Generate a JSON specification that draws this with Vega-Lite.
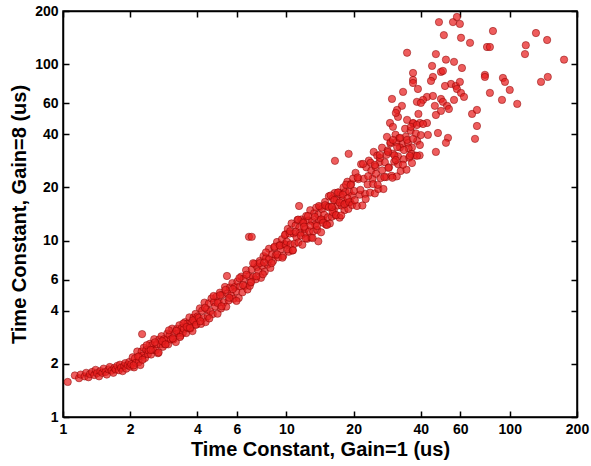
{
  "$schema": "https://vega.github.io/schema/vega-lite/v6.json",
  "width": 514,
  "height": 406,
  "autosize": {"type": "none"},
  "padding": {"left": 63, "top": 11, "right": 14, "bottom": 49},
  "background": "white",
  "config": {
    "view": {"stroke": "#000", "strokeWidth": 1.5},
    "axis": {
      "domainColor": "#000", "domainWidth": 1.5,
      "tickColor": "#000", "tickWidth": 1.5, "tickSize": -6,
      "grid": false,
      "labelFont": "Liberation Sans", "labelFontWeight": "bold", "labelFontSize": 14, "labelColor": "#000",
      "titleFont": "Liberation Sans", "titleFontWeight": "bold", "titleFontSize": 20, "titleColor": "#000"
    }
  },
  "datasets": {
    "pts": [
      {"t1":1.05,"t8":1.58},{"t1":1.13,"t8":1.72},{"t1":1.18,"t8":1.66},{"t1":1.2,"t8":1.74},{"t1":1.25,"t8":1.7},{"t1":1.27,"t8":1.78},{"t1":1.3,"t8":1.68},{"t1":1.32,"t8":1.75},{"t1":1.35,"t8":1.8},{"t1":1.38,"t8":1.73},{"t1":1.4,"t8":1.85},{"t1":1.42,"t8":1.77},{"t1":1.45,"t8":1.7},{"t1":1.47,"t8":1.82},{"t1":1.5,"t8":1.78},{"t1":1.52,"t8":1.88},{"t1":1.55,"t8":1.8},{"t1":1.57,"t8":1.74},{"t1":1.6,"t8":1.86},{"t1":1.62,"t8":1.92},{"t1":1.65,"t8":1.83},{"t1":1.68,"t8":1.78},{"t1":1.7,"t8":1.9},{"t1":1.72,"t8":1.86},{"t1":1.75,"t8":1.95},{"t1":1.78,"t8":1.84},{"t1":1.8,"t8":1.98},{"t1":1.82,"t8":1.9},{"t1":1.85,"t8":1.82},{"t1":1.88,"t8":1.95},{"t1":1.9,"t8":2.02},{"t1":1.92,"t8":1.88},{"t1":1.95,"t8":1.97},{"t1":1.98,"t8":2.05},{"t1":2.0,"t8":1.93},
      {"t1":2.02,"t8":1.99},{"t1":2.05,"t8":2.18},{"t1":2.08,"t8":1.91},{"t1":2.1,"t8":2.15},{"t1":2.12,"t8":2.03},{"t1":2.15,"t8":2.35},{"t1":2.18,"t8":2.04},{"t1":2.2,"t8":2.21},{"t1":2.22,"t8":1.97},{"t1":2.25,"t8":2.35},{"t1":2.28,"t8":2.23},{"t1":2.3,"t8":2.47},{"t1":2.33,"t8":2.16},{"t1":2.36,"t8":2.4},{"t1":2.4,"t8":2.27},{"t1":2.42,"t8":2.38},{"t1":2.45,"t8":2.6},{"t1":2.48,"t8":2.26},{"t1":2.5,"t8":2.55},{"t1":2.53,"t8":2.4},{"t1":2.56,"t8":2.76},{"t1":2.6,"t8":2.39},{"t1":2.63,"t8":2.59},{"t1":2.66,"t8":2.3},{"t1":2.7,"t8":2.75},{"t1":2.73,"t8":2.58},{"t1":2.76,"t8":2.87},{"t1":2.8,"t8":2.5},{"t1":2.83,"t8":2.76},{"t1":2.86,"t8":2.59},{"t1":2.9,"t8":2.73},{"t1":2.93,"t8":2.97},{"t1":2.96,"t8":2.58},{"t1":3.0,"t8":2.91},{"t1":3.04,"t8":2.75},{"t1":3.08,"t8":3.17},{"t1":3.12,"t8":2.75},{"t1":3.16,"t8":2.98},{"t1":3.2,"t8":2.66},{"t1":3.24,"t8":3.16},{"t1":3.28,"t8":2.98},{"t1":3.32,"t8":3.31},{"t1":3.36,"t8":2.89},{"t1":3.4,"t8":3.19},{"t1":3.44,"t8":3.0},{"t1":3.48,"t8":3.16},{"t1":3.52,"t8":3.45},{"t1":3.56,"t8":2.99},{"t1":3.6,"t8":3.38},{"t1":3.64,"t8":3.18},{"t1":3.68,"t8":3.67},{"t1":3.72,"t8":3.17},{"t1":3.76,"t8":3.44},{"t1":3.8,"t8":3.07},{"t1":3.84,"t8":3.65},{"t1":3.88,"t8":3.45},{"t1":3.92,"t8":3.84},{"t1":3.96,"t8":3.35},{"t1":4.0,"t8":3.71},{"t1":2.26,"t8":2.95},
      {"t1":2.07,"t8":1.96},{"t1":2.17,"t8":2.2},{"t1":2.27,"t8":2.11},{"t1":2.37,"t8":2.55},{"t1":2.47,"t8":2.4},{"t1":2.58,"t8":2.65},{"t1":2.68,"t8":2.32},{"t1":2.78,"t8":2.69},{"t1":2.88,"t8":2.58},{"t1":2.98,"t8":3.1},{"t1":3.1,"t8":2.79},{"t1":3.22,"t8":3.08},{"t1":3.34,"t8":2.84},{"t1":3.46,"t8":3.39},{"t1":3.58,"t8":3.24},{"t1":3.7,"t8":3.2},{"t1":3.82,"t8":3.53},{"t1":3.94,"t8":3.33},
      {"t1":4.05,"t8":3.65},{"t1":4.1,"t8":4.13},{"t1":4.15,"t8":3.37},{"t1":4.2,"t8":4.01},{"t1":4.25,"t8":3.64},{"t1":4.3,"t8":4.45},{"t1":4.35,"t8":3.45},{"t1":4.4,"t8":4.08},{"t1":4.45,"t8":3.72},{"t1":4.5,"t8":4.41},{"t1":4.56,"t8":3.98},{"t1":4.62,"t8":4.7},{"t1":4.68,"t8":3.83},{"t1":4.74,"t8":4.48},{"t1":4.8,"t8":4.23},{"t1":4.86,"t8":4.81},{"t1":4.92,"t8":3.85},{"t1":4.98,"t8":4.48},{"t1":5.04,"t8":5.07},{"t1":5.1,"t8":4.12},{"t1":5.17,"t8":4.92},{"t1":5.24,"t8":4.46},{"t1":5.31,"t8":5.46},{"t1":5.38,"t8":4.22},{"t1":5.45,"t8":5.01},{"t1":5.52,"t8":4.58},{"t1":5.59,"t8":5.42},{"t1":5.66,"t8":4.88},{"t1":5.73,"t8":5.74},{"t1":5.8,"t8":4.68},{"t1":5.88,"t8":5.46},{"t1":5.96,"t8":5.16},{"t1":6.04,"t8":5.87},{"t1":6.12,"t8":4.72},{"t1":6.2,"t8":5.5},{"t1":6.28,"t8":6.25},{"t1":6.36,"t8":5.09},{"t1":6.44,"t8":6.08},{"t1":6.52,"t8":5.53},{"t1":6.6,"t8":6.79},{"t1":6.7,"t8":5.28},{"t1":6.8,"t8":6.28},{"t1":6.9,"t8":5.77},{"t1":7.0,"t8":6.87},{"t1":7.1,"t8":6.22},{"t1":7.2,"t8":7.37},{"t1":7.3,"t8":6.03},{"t1":7.4,"t8":7.08},{"t1":7.5,"t8":6.71},{"t1":7.6,"t8":7.66},{"t1":7.7,"t8":6.15},{"t1":7.8,"t8":7.18},{"t1":7.9,"t8":8.16},{"t1":8.0,"t8":6.66},{"t1":8.12,"t8":7.99},{"t1":8.24,"t8":7.3},{"t1":8.36,"t8":8.99},{"t1":8.48,"t8":7.0},{"t1":8.6,"t8":8.34},{"t1":8.72,"t8":7.66},{"t1":8.84,"t8":9.13},{"t1":8.96,"t8":8.27},{"t1":9.08,"t8":9.81},{"t1":9.2,"t8":8.03},{"t1":9.32,"t8":9.41},{"t1":9.44,"t8":8.93},{"t1":9.56,"t8":10.18},{"t1":9.68,"t8":8.18},{"t1":9.8,"t8":9.55},{"t1":9.92,"t8":10.86},{"t1":6.8,"t8":10.5},{"t1":7.0,"t8":10.5},{"t1":5.42,"t8":6.3},
      {"t1":4.12,"t8":3.49},{"t1":4.32,"t8":4.16},{"t1":4.52,"t8":3.62},{"t1":4.72,"t8":4.85},{"t1":4.92,"t8":4.43},{"t1":5.13,"t8":4.24},{"t1":5.34,"t8":5.25},{"t1":5.55,"t8":4.74},{"t1":5.76,"t8":5.31},{"t1":5.98,"t8":4.55},{"t1":6.16,"t8":6.12},{"t1":6.4,"t8":5.59},{"t1":6.63,"t8":6.4},{"t1":6.86,"t8":5.54},{"t1":7.1,"t8":7.44},{"t1":7.35,"t8":6.28},{"t1":7.6,"t8":7.45},{"t1":7.85,"t8":6.44},{"t1":8.1,"t8":8.57},{"t1":8.35,"t8":7.81},{"t1":8.6,"t8":7.45},{"t1":8.85,"t8":9.23},{"t1":9.1,"t8":8.34},{"t1":9.35,"t8":9.36},{"t1":9.6,"t8":8.0},{"t1":9.85,"t8":10.75},{"t1":5.05,"t8":4.9},{"t1":6.95,"t8":5.81},{"t1":7.95,"t8":7.5},{"t1":9.95,"t8":9.46},
      {"t1":10.05,"t8":9.85},{"t1":10.15,"t8":11.64},{"t1":10.25,"t8":8.64},{"t1":10.35,"t8":10.95},{"t1":10.45,"t8":9.52},{"t1":10.55,"t8":12.51},{"t1":10.66,"t8":8.78},{"t1":10.77,"t8":10.97},{"t1":10.88,"t8":9.59},{"t1":10.99,"t8":12.17},{"t1":11.1,"t8":10.44},{"t1":11.21,"t8":13.08},{"t1":11.32,"t8":9.76},{"t1":11.43,"t8":11.87},{"t1":11.55,"t8":11.09},{"t1":11.67,"t8":13.16},{"t1":11.79,"t8":9.47},{"t1":11.91,"t8":12.84},{"t1":12.03,"t8":10.97},{"t1":12.15,"t8":11.66},{"t1":12.27,"t8":13.78},{"t1":12.4,"t8":10.23},{"t1":12.53,"t8":12.99},{"t1":12.66,"t8":11.3},{"t1":12.79,"t8":14.86},{"t1":12.92,"t8":10.42},{"t1":13.05,"t8":12.9},{"t1":13.18,"t8":11.27},{"t1":13.32,"t8":14.3},{"t1":13.46,"t8":12.28},{"t1":13.6,"t8":15.37},{"t1":13.74,"t8":11.49},{"t1":13.88,"t8":13.98},{"t1":14.02,"t8":13.05},{"t1":14.16,"t8":15.47},{"t1":14.3,"t8":11.14},{"t1":14.45,"t8":15.1},{"t1":14.6,"t8":13.04},{"t1":14.75,"t8":14.01},{"t1":14.9,"t8":16.56},{"t1":15.05,"t8":12.3},{"t1":15.2,"t8":15.6},{"t1":15.35,"t8":13.56},{"t1":15.5,"t8":17.82},{"t1":15.66,"t8":12.5},{"t1":15.82,"t8":15.63},{"t1":15.98,"t8":13.66},{"t1":16.14,"t8":17.33},{"t1":16.3,"t8":14.87},{"t1":16.46,"t8":18.61},{"t1":16.63,"t8":13.9},{"t1":16.8,"t8":16.92},{"t1":16.97,"t8":15.8},{"t1":17.14,"t8":18.72},{"t1":17.31,"t8":13.48},{"t1":17.48,"t8":18.27},{"t1":17.66,"t8":15.77},{"t1":17.84,"t8":16.95},{"t1":18.02,"t8":20.03},{"t1":18.2,"t8":14.87},{"t1":18.38,"t8":18.86},{"t1":18.56,"t8":16.4},{"t1":18.75,"t8":21.55},{"t1":18.94,"t8":15.11},{"t1":19.13,"t8":18.9},{"t1":19.32,"t8":16.52},{"t1":19.51,"t8":20.94},{"t1":19.7,"t8":17.97},{"t1":19.9,"t8":22.49},{"t1":11.4,"t8":15.7},{"t1":13.9,"t8":9.9},{"t1":16.5,"t8":28.3},{"t1":19.0,"t8":31.0},
      {"t1":10.1,"t8":8.92},{"t1":10.4,"t8":11.3},{"t1":10.7,"t8":8.82},{"t1":11.0,"t8":11.2},{"t1":11.3,"t8":13.15},{"t1":11.6,"t8":10.69},{"t1":11.9,"t8":12.58},{"t1":12.2,"t8":10.3},{"t1":12.5,"t8":13.78},{"t1":12.8,"t8":12.16},{"t1":13.1,"t8":10.33},{"t1":13.4,"t8":13.62},{"t1":13.7,"t8":12.1},{"t1":14.0,"t8":15.69},{"t1":14.3,"t8":13.18},{"t1":14.6,"t8":12.62},{"t1":14.9,"t8":15.86},{"t1":15.2,"t8":12.27},{"t1":15.5,"t8":15.46},{"t1":15.8,"t8":18.01},{"t1":16.1,"t8":14.53},{"t1":16.4,"t8":16.98},{"t1":16.7,"t8":13.96},{"t1":17.0,"t8":18.73},{"t1":17.3,"t8":16.44},{"t1":17.6,"t8":13.88},{"t1":17.9,"t8":18.19},{"t1":18.2,"t8":16.08},{"t1":18.5,"t8":20.74},{"t1":18.8,"t8":17.32},{"t1":19.1,"t8":16.51},{"t1":19.4,"t8":20.64},{"t1":19.7,"t8":15.91},{"t1":12.0,"t8":11.99},{"t1":16.0,"t8":15.5},
      {"t1":20.1,"t8":19.1},{"t1":20.4,"t8":24.2},{"t1":20.7,"t8":15.7},{"t1":21.0,"t8":22.3},{"t1":21.3,"t8":18.2},{"t1":21.6,"t8":27.1},{"t1":21.9,"t8":15.8},{"t1":22.2,"t8":22.4},{"t1":22.5,"t8":18.4},{"t1":22.8,"t8":26.0},{"t1":23.1,"t8":20.8},{"t1":23.4,"t8":28.4},{"t1":23.7,"t8":18.7},{"t1":24.0,"t8":24.9},{"t1":24.3,"t8":22.4},{"t1":24.6,"t8":31.8},{"t1":24.9,"t8":18.5},{"t1":25.2,"t8":23.9},{"t1":25.5,"t8":30.3},{"t1":25.8,"t8":19.6},{"t1":26.1,"t8":27.8},{"t1":26.4,"t8":22.6},{"t1":26.8,"t8":33.6},{"t1":27.2,"t8":19.6},{"t1":27.6,"t8":27.8},{"t1":28.0,"t8":22.9},{"t1":28.4,"t8":32.4},{"t1":28.8,"t8":26.0},{"t1":29.2,"t8":35.5},{"t1":29.6,"t8":23.3},{"t1":30.0,"t8":31.1},{"t1":30.4,"t8":28.0},{"t1":30.8,"t8":39.8},{"t1":31.2,"t8":23.1},{"t1":31.6,"t8":30.0},{"t1":32.0,"t8":38.0},{"t1":32.5,"t8":24.8},{"t1":33.0,"t8":35.3},{"t1":33.5,"t8":28.9},{"t1":34.0,"t8":43.0},{"t1":34.5,"t8":25.2},{"t1":35.0,"t8":35.7},{"t1":35.5,"t8":29.5},{"t1":36.0,"t8":41.9},{"t1":36.5,"t8":33.7},{"t1":37.0,"t8":46.1},{"t1":37.5,"t8":30.4},{"t1":38.0,"t8":40.5},{"t1":38.5,"t8":36.7},{"t1":39.0,"t8":52.2},{"t1":39.5,"t8":30.4},{"t1":40.0,"t8":39.6},
      {"t1":20.25,"t8":16.93},{"t1":20.85,"t8":22.78},{"t1":21.45,"t8":19.36},{"t1":22.05,"t8":27.2},{"t1":22.65,"t8":17.2},{"t1":23.25,"t8":23.19},{"t1":23.85,"t8":27.6},{"t1":24.45,"t8":20.9},{"t1":25.05,"t8":26.2},{"t1":25.65,"t8":20.7},{"t1":26.25,"t8":29.4},{"t1":26.85,"t8":25.0},{"t1":27.45,"t8":22.9},{"t1":28.05,"t8":30.6},{"t1":28.65,"t8":25.8},{"t1":29.25,"t8":36.1},{"t1":29.85,"t8":22.7},{"t1":30.45,"t8":30.4},{"t1":31.05,"t8":36.0},{"t1":31.65,"t8":27.1},{"t1":32.25,"t8":33.7},{"t1":33.25,"t8":26.9},{"t1":34.25,"t8":38.8},{"t1":35.25,"t8":33.3},{"t1":36.25,"t8":31.0},
      {"t1":28.2,"t8":38.7},{"t1":30.0,"t8":37.2},{"t1":32.3,"t8":38.2},{"t1":34.7,"t8":37.2},{"t1":36.9,"t8":37.7},{"t1":39.6,"t8":34.8},{"t1":31.3,"t8":33.9},{"t1":33.6,"t8":32.6},{"t1":28.5,"t8":31.8},{"t1":35.7,"t8":30.2},{"t1":30.9,"t8":28.6},{"t1":26.2,"t8":30.6},{"t1":24.9,"t8":26.8},
      {"t1":48.2,"t8":173},{"t1":55.7,"t8":173},{"t1":58.0,"t8":185},{"t1":59.8,"t8":169},{"t1":50.7,"t8":146},{"t1":60.5,"t8":141},{"t1":66.4,"t8":132},{"t1":84.1,"t8":154},{"t1":131,"t8":150},{"t1":147,"t8":137},{"t1":118,"t8":128},{"t1":117,"t8":114},{"t1":79.1,"t8":125},{"t1":81.5,"t8":125},{"t1":34.7,"t8":116},{"t1":46.7,"t8":114},{"t1":51.8,"t8":106},{"t1":56.3,"t8":103},{"t1":44.9,"t8":97.7},{"t1":61.1,"t8":95.1},{"t1":36.9,"t8":89.1},{"t1":36.9,"t8":81.3},{"t1":36.9,"t8":78.2},{"t1":49.2,"t8":90.3},{"t1":50.2,"t8":91.5},{"t1":45.3,"t8":84.6},{"t1":44.4,"t8":80.3},{"t1":77.4,"t8":86.9},{"t1":77.4,"t8":84.6},{"t1":93.2,"t8":83.5},{"t1":95.2,"t8":79.3},{"t1":148,"t8":84.6},{"t1":138,"t8":79.3},{"t1":175,"t8":106},{"t1":54.6,"t8":77.2},{"t1":57.4,"t8":75.2},{"t1":59.8,"t8":79.3},{"t1":58.0,"t8":72.3},{"t1":60.5,"t8":68.7},{"t1":62.4,"t8":65.2},{"t1":51.3,"t8":75.2},{"t1":38.8,"t8":72.3},{"t1":33.3,"t8":69.6},{"t1":81.5,"t8":68.7},{"t1":100,"t8":71.4},{"t1":92.3,"t8":62.7},{"t1":108,"t8":59.5},{"t1":29.7,"t8":63.5},{"t1":42.6,"t8":65.2},{"t1":45.3,"t8":66.0},{"t1":40.9,"t8":62.7},{"t1":38.4,"t8":61.1},{"t1":40.0,"t8":60.3},{"t1":49.2,"t8":63.5},{"t1":50.2,"t8":61.1},{"t1":52.4,"t8":58.0},{"t1":53.4,"t8":55.7},{"t1":56.3,"t8":62.7},{"t1":46.2,"t8":58.0},{"t1":49.2,"t8":54.3},{"t1":46.7,"t8":51.5},{"t1":32.9,"t8":58.0},{"t1":31.3,"t8":55.0},{"t1":31.6,"t8":50.2},{"t1":30.9,"t8":52.9},{"t1":67.8,"t8":52.2},{"t1":71.3,"t8":55.0},{"t1":71.3,"t8":44.6},{"t1":69.9,"t8":37.7},{"t1":43.0,"t8":39.7},{"t1":47.7,"t8":40.7},{"t1":52.9,"t8":38.2},{"t1":51.8,"t8":35.8},{"t1":46.7,"t8":31.8},{"t1":34.7,"t8":48.3},{"t1":36.9,"t8":46.4},{"t1":39.6,"t8":46.4},{"t1":42.6,"t8":46.4},{"t1":36.1,"t8":44.1},{"t1":38.4,"t8":45.2},{"t1":40.9,"t8":45.8},{"t1":29.1,"t8":46.4},{"t1":30.0,"t8":44.1},{"t1":38.4,"t8":30.2},{"t1":36.5,"t8":27.5}
    ]
  },
  "layer": [
    {
      "data": {"name": "pts"},
      "mark": {"type": "point", "shape": "circle", "filled": true, "size": 54, "fill": "#e81e1e", "fillOpacity": 0.72, "stroke": "#850000", "strokeWidth": 0.7, "strokeOpacity": 0.7, "clip": true},
      "encoding": {
        "x": {"field": "t1", "type": "quantitative",
              "scale": {"type": "log", "domain": [1, 200], "nice": false},
              "axis": {"orient": "bottom", "values": [1, 2, 4, 6, 10, 20, 40, 60, 100, 200], "labelPadding": 11, "labelFlush": false, "labelOverlap": false, "title": "Time Constant, Gain=1 (us)", "titlePadding": 3}},
        "y": {"field": "t8", "type": "quantitative",
              "scale": {"type": "log", "domain": [1, 200], "nice": false},
              "axis": {"orient": "left", "values": [1, 2, 4, 6, 10, 20, 40, 60, 100, 200], "labelPadding": 11, "labelFlush": false, "labelOverlap": false, "title": "Time Constant, Gain=8 (us)", "titlePadding": 5}}
      }
    },
    {
      "data": {"values": [{"t1": 1, "t8": 1}]},
      "mark": {"type": "point", "opacity": 0},
      "encoding": {
        "x": {"field": "t1", "type": "quantitative",
              "scale": {"type": "log", "domain": [1, 200], "nice": false},
              "axis": {"orient": "top", "values": [1, 2, 4, 6, 10, 20, 40, 60, 100, 200], "labels": false, "title": null}},
        "y": {"field": "t8", "type": "quantitative",
              "scale": {"type": "log", "domain": [1, 200], "nice": false},
              "axis": {"orient": "right", "values": [1, 2, 4, 6, 10, 20, 40, 60, 100, 200], "labels": false, "title": null}}
      }
    }
  ],
  "resolve": {"scale": {"x": "independent", "y": "independent"}}
}
